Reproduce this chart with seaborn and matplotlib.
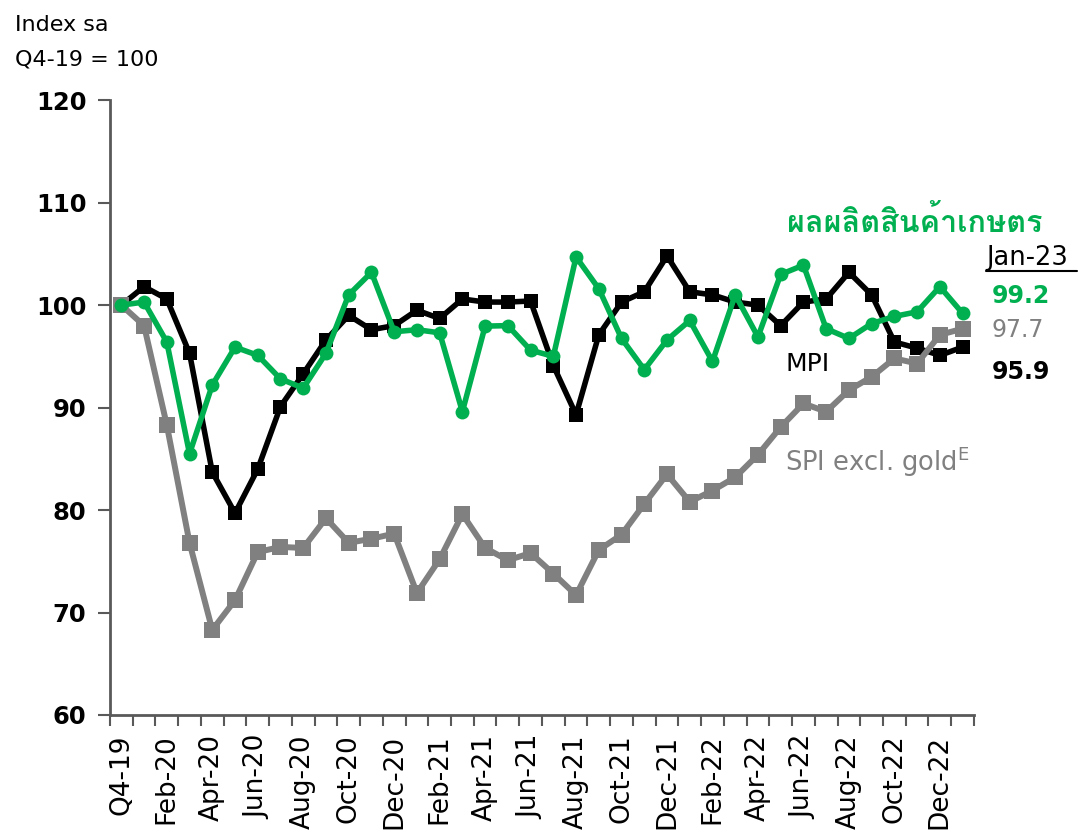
import matplotlib
matplotlib.use("Agg")
import matplotlib.pyplot as plt
import seaborn as sns
import pandas as pd
from matplotlib import font_manager
from matplotlib.ft2font import FT2Font

# data
months = ["Q4-19",
          "Jan-20", "Feb-20", "Mar-20", "Apr-20", "May-20", "Jun-20", "Jul-20", "Aug-20", "Sep-20", "Oct-20", "Nov-20", "Dec-20",
          "Jan-21", "Feb-21", "Mar-21", "Apr-21", "May-21", "Jun-21", "Jul-21", "Aug-21", "Sep-21", "Oct-21", "Nov-21", "Dec-21",
          "Jan-22", "Feb-22", "Mar-22", "Apr-22", "May-22", "Jun-22", "Jul-22", "Aug-22", "Sep-22", "Oct-22", "Nov-22", "Dec-22",
          "Jan-23"]
mpi = [100.0, 101.8, 100.6, 95.3, 83.7, 79.7, 84.0, 90.1, 93.3, 96.6, 99.0, 97.6, 98.0,
       99.5, 98.7, 100.6, 100.3, 100.3, 100.4, 94.1, 89.3, 97.1, 100.3, 101.3, 104.8,
       101.3, 101.0, 100.3, 100.0, 98.0, 100.3, 100.6, 103.2, 101.0, 96.4, 95.8, 95.1, 95.9]
spi = [100.0, 98.0, 88.3, 76.8, 68.3, 71.2, 75.9, 76.4, 76.3, 79.2, 76.8, 77.2, 77.7,
       71.9, 75.2, 79.6, 76.3, 75.1, 75.8, 73.8, 71.7, 76.1, 77.6, 80.6, 83.5,
       80.8, 81.9, 83.2, 85.4, 88.1, 90.4, 89.6, 91.7, 93.0, 94.8, 94.3, 97.1, 97.7]
agri = [100.0, 100.3, 96.4, 85.5, 92.2, 95.9, 95.1, 92.8, 91.9, 95.3, 101.0, 103.2, 97.4,
        97.6, 97.3, 89.6, 97.95, 98.0, 95.6, 95.0, 104.7, 101.6, 96.75, 93.7, 96.6,
        98.5, 94.5, 101.0, 96.9, 103.0, 103.9, 97.7, 96.75, 98.2, 98.9, 99.35, 101.8, 99.2]

df = pd.DataFrame({"idx": range(len(months)), "month": months,
                   "MPI": mpi, "SPI": spi, "AGRI": agri})

green = "#00B050"
grey = "#808080"
axis_col = "#595959"

sns.set_style("white", {"xtick.bottom": True, "ytick.left": True,
                        "text.color": "black", "xtick.color": "black", "ytick.color": "black"})

# find an installed font that has Thai glyphs for the Thai label
thai_family = None
for f in font_manager.fontManager.ttflist:
    try:
        if 0x0E1C in FT2Font(f.fname).get_charmap():
            thai_family = f.name
            break
    except Exception:
        pass
plt.rcParams["font.family"] = ["DejaVu Sans"] + ([thai_family] if thai_family else [])

fig = plt.figure(figsize=(10.78, 8.33), dpi=100)
ax = fig.add_axes([0.102, 0.1417, 0.8015, 0.738])

sns.lineplot(data=df, x="idx", y="MPI", color="black", linewidth=4,
             marker="s", markersize=10, markeredgewidth=0, ax=ax)
sns.lineplot(data=df, x="idx", y="SPI", color=grey, linewidth=4.3,
             marker="s", markersize=11.5, markeredgewidth=0, ax=ax)
sns.lineplot(data=df, x="idx", y="AGRI", color=green, linewidth=4,
             marker="o", markersize=10, markeredgewidth=0, ax=ax)

ax.set_xlim(-0.5, len(months) - 0.5)
ax.set_ylim(60, 120)
ax.set_yticks(range(60, 121, 10))
ax.set_xticks(df["idx"][::2])
ax.set_xticklabels(df["month"][::2], rotation=90, fontsize=19)
ax.set_xticks([i - 0.5 for i in range(len(months) + 1)], minor=True)
ax.tick_params(axis="x", which="major", bottom=True, length=0, pad=14)
ax.tick_params(axis="x", which="minor", bottom=True, length=8, width=1.5, color=axis_col, direction="out")
ax.tick_params(axis="y", left=True, length=9, width=1.5, color=axis_col, direction="out", pad=8)
for lab in ax.get_yticklabels():
    lab.set_fontsize(17.5)
    lab.set_fontweight("bold")
ax.set_xlabel("")
ax.set_ylabel("")

for side in ["top", "right"]:
    ax.spines[side].set_visible(False)
for side in ["left", "bottom"]:
    ax.spines[side].set_color(axis_col)
    ax.spines[side].set_linewidth(2)

# labels
fig.text(0.014, 0.970, "Index sa", fontsize=16, va="center")
fig.text(0.014, 0.928, "Q4-19 = 100", fontsize=16, va="center")

ax.text(34.9, 108.1, "ผลผลิตสินค้าเกษตร", color=green, fontsize=22,
        fontweight="bold", ha="center", va="center")
ax.text(29.2, 94.3, "MPI", color="black", fontsize=18, va="center")
ax.text(29.2, 84.7, "SPI excl. gold$^{\\mathrm{E}}$", color=grey, fontsize=18.5, va="center")

ax.text(38.05, 104.6, "Jan-23", color="black", fontsize=18.5, va="center", clip_on=False)
ax.plot([38.05, 42.05], [103.3, 103.3], color="black", linewidth=1.5, clip_on=False)
ax.text(38.27, 100.9, "99.2", color=green, fontsize=17, fontweight="bold", va="center", clip_on=False)
ax.text(38.27, 97.6, "97.7", color=grey, fontsize=17, va="center", clip_on=False)
ax.text(38.27, 93.5, "95.9", color="black", fontsize=17, fontweight="bold", va="center", clip_on=False)

fig.savefig("out.png", dpi=100)
